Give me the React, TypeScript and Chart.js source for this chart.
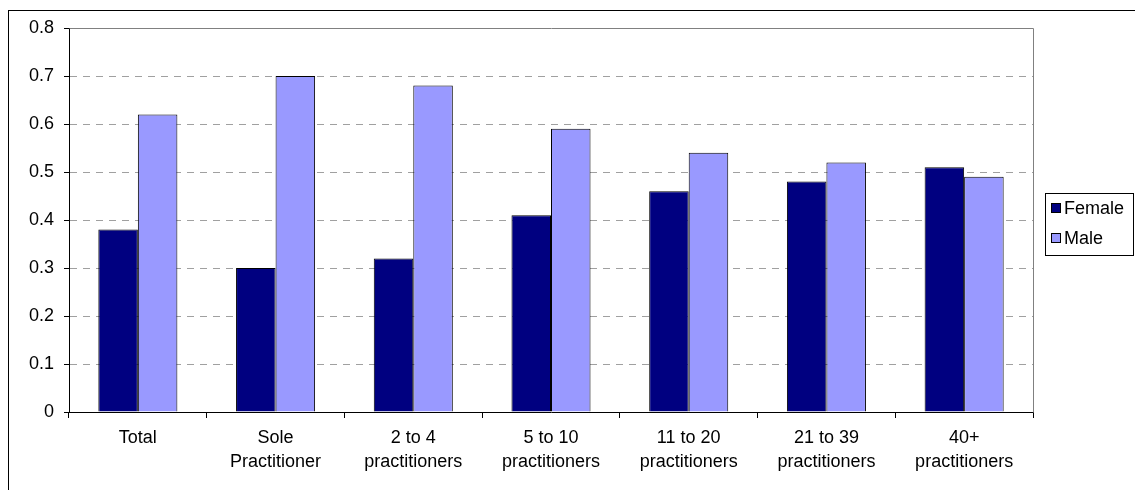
import React, { useEffect, useRef } from "react";
import { Chart, registerables } from "chart.js";

Chart.register(...registerables);

const categories: string[][] = [
  ["Total"],
  ["Sole", "Practitioner"],
  ["2 to 4", "practitioners"],
  ["5 to 10", "practitioners"],
  ["11 to 20", "practitioners"],
  ["21 to 39", "practitioners"],
  ["40+", "practitioners"],
];
const femaleValues = [0.38, 0.3, 0.32, 0.41, 0.46, 0.48, 0.51];
const maleValues = [0.62, 0.7, 0.68, 0.59, 0.54, 0.52, 0.49];
const seriesNames = ["Female", "Male"];
const seriesColors = ["#000080", "#9999FF"];
const yTicks = [0, 0.1, 0.2, 0.3, 0.4, 0.5, 0.6, 0.7, 0.8];

const FONT = '"Liberation Sans", Arial, sans-serif';
const FONT_SIZE = 18;

// Outer frame, gray plot-area edges and the boxed legend on the right
const framePlugin = {
  id: "frame",
  beforeDatasetsDraw(chart: any) {
    const { ctx, chartArea } = chart;
    ctx.save();
    ctx.strokeStyle = "#808080";
    ctx.lineWidth = 1;
    ctx.beginPath();
    const l = Math.round(chartArea.left) + 0.5;
    const t = Math.round(chartArea.top) + 0.5;
    const r = Math.round(chartArea.right) + 0.5;
    const b = Math.round(chartArea.bottom) + 0.5;
    ctx.moveTo(l, t);
    ctx.lineTo(r, t);
    ctx.lineTo(r, b);
    ctx.stroke();
    ctx.restore();
  },
  afterDraw(chart: any) {
    const { ctx } = chart;
    ctx.save();
    // outer chart border
    ctx.strokeStyle = "#000";
    ctx.lineWidth = 1;
    ctx.strokeRect(8.5, 10.5, 1300, 700);

    // legend box
    const bx = 1045.5;
    const by = 193.5;
    const bw = 88;
    const bh = 62;
    ctx.fillStyle = "#fff";
    ctx.fillRect(bx, by, bw, bh);
    ctx.strokeRect(bx, by, bw, bh);
    ctx.font = `${FONT_SIZE}px ${FONT}`;
    ctx.textBaseline = "middle";
    ctx.textAlign = "left";
    chart.data.datasets.forEach((ds: any, i: number) => {
      const cy = 208 + i * 30;
      ctx.fillStyle = ds.backgroundColor;
      ctx.fillRect(1051.5, cy - 4.5, 9, 9);
      ctx.strokeStyle = "#000";
      ctx.strokeRect(1051.5, cy - 4.5, 9, 9);
      ctx.fillStyle = "#000";
      ctx.fillText(ds.label, 1064, cy + 1);
    });
    ctx.restore();
  },
};

export default function App() {
  const canvasRef = useRef<HTMLCanvasElement | null>(null);

  useEffect(() => {
    const canvas = canvasRef.current;
    if (!canvas) return;
    const chart = new Chart(canvas, {
      type: "bar",
      data: {
        labels: categories,
        datasets: [
          {
            label: seriesNames[0],
            data: femaleValues,
            backgroundColor: seriesColors[0],
            borderColor: "#000",
            borderWidth: 1,
          },
          {
            label: seriesNames[1],
            data: maleValues,
            backgroundColor: seriesColors[1],
            borderColor: "#000",
            borderWidth: 1,
          },
        ],
      },
      options: {
        responsive: false,
        animation: false,
        layout: { padding: { left: 0, top: 28, right: 102, bottom: 0 } },
        plugins: {
          legend: { display: false },
          tooltip: { enabled: false },
        },
        datasets: {
          bar: { categoryPercentage: 0.574, barPercentage: 1 },
        },
        scales: {
          x: {
            offset: true,
            grid: {
              display: true,
              offset: true,
              drawOnChartArea: false,
              drawTicks: true,
              tickLength: 6,
              tickColor: "#000",
            },
            border: { display: true, color: "#000", width: 1 },
            ticks: {
              color: "#000",
              padding: 8,
              maxRotation: 0,
              autoSkip: false,
              font: { family: FONT, size: FONT_SIZE, lineHeight: 1.333 },
            },
            afterFit(scale: any) {
              scale.height = 78;
            },
          },
          y: {
            min: 0,
            max: 0.8,
            afterBuildTicks(scale: any) {
              scale.ticks = yTicks.map((v) => ({ value: v }));
            },
            grid: {
              color: (ctx: any) =>
                ctx.tick && (ctx.tick.value === 0 || ctx.tick.value === 0.8)
                  ? "rgba(0,0,0,0)"
                  : "#A0A0A0",
              tickColor: "#000",
              tickLength: 5,
              drawTicks: true,
            },
            border: { display: true, color: "#000", width: 1, dash: [7, 6] },
            ticks: {
              color: "#000",
              padding: 10,
              font: { family: FONT, size: FONT_SIZE },
              callback: (v: any) => String(Math.round(Number(v) * 10) / 10),
            },
            afterFit(scale: any) {
              scale.width = 69;
            },
          },
        },
      },
      plugins: [framePlugin],
    });
    return () => chart.destroy();
  }, []);

  return (
    <div style={{ position: "absolute", left: 0, top: 0, width: 1135, height: 490, background: "#fff" }}>
      <canvas ref={canvasRef} width={1135} height={490} />
    </div>
  );
}
